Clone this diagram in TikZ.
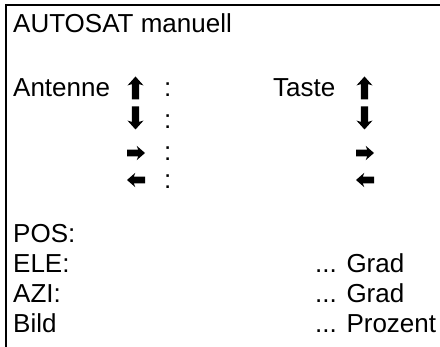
\documentclass[tikz,border=0pt]{standalone}
\usepackage{fontspec}
\setmainfont{Liberation Sans}
\begin{document}
\begin{tikzpicture}[x=1pt,y=-1pt,
  txt/.style={anchor=base west, inner sep=0pt, font=\fontsize{26}{26}\selectfont},
  frameline/.style={line width=2pt},
  varrow/.pic={\fill[scale=1.15] (0,-10) -- (7,-2.2) -- (3.1,-3.4) -- (3.1,10) -- (-3.1,10) -- (-3.1,-3.4) -- (-7,-2.2) -- cycle;},
  harrow/.pic={\fill[scale=1.2] (7.5,0) -- (0.6,-6) -- (1.8,-2.8) -- (-7.5,-2.8) -- (-7.5,2.8) -- (1.8,2.8) -- (0.6,6) -- cycle;}
]
\useasboundingbox (0,0) rectangle (440,347);
\draw[frameline] (6,348) -- (6,5) -- (441,5);
\node[txt] (title) at (13,33) {AUTOSAT manuell};
\node[txt] (ant) at (13,97) {Antenne};
\node[txt] (taste) at (273,97) {Taste};
\pic at (135.5,88) {varrow};
\pic[rotate=180] at (135.5,118) {varrow};
\pic at (136,153) {harrow};
\pic[rotate=180] at (136,180) {harrow};
\pic at (364.5,88) {varrow};
\pic[rotate=180] at (364.5,118) {varrow};
\pic at (365,153) {harrow};
\pic[rotate=180] at (365,180) {harrow};
\node[txt] (c1) at (164,97) {:};
\node[txt] (c2) at (164,129) {:};
\node[txt] (c3) at (164,161) {:};
\node[txt] (c4) at (164,189) {:};
\node[txt] (pos) at (13,243) {POS:};
\node[txt] (ele) at (13,273) {ELE:};
\node[txt] (azi) at (13,303) {AZI:};
\node[txt] (bild) at (13,333) {Bild};
\node[txt] (g1) at (315,273) {... Grad};
\node[txt] (g2) at (315,303) {... Grad};
\node[txt] (pz) at (315,333) {... Prozent};
\end{tikzpicture}
\end{document}
